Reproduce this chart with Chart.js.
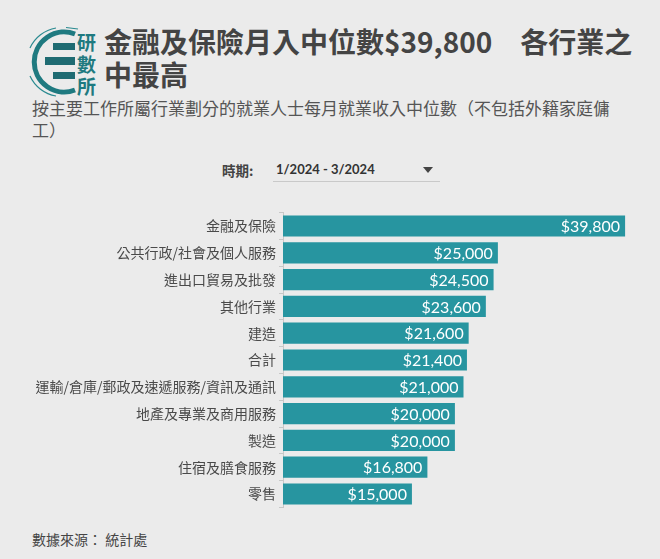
<!DOCTYPE html>
<html>
<head>
<meta charset="utf-8">
<script src="https://cdn.jsdelivr.net/npm/chart.js@4/dist/chart.umd.min.js"></script>
<style>
  html, body { margin:0; padding:0; background:#ebebeb; width:660px; height:559px; overflow:hidden; font-family:"Noto Sans CJK TC","Noto Sans",sans-serif; }
  #logo { position:absolute; left:26px; top:26px; }
  #title { position:absolute; left:104px; top:25px; width:540px; font-size:28px; font-weight:700; color:#444; line-height:33px; letter-spacing:0; }
  #subtitle { position:absolute; left:32px; top:97px; width:600px; font-size:17px; color:#555; line-height:22px; }
  #period { position:absolute; left:222px; top:160px; font-size:13.5px; font-weight:700; color:#444; }
  #select { position:absolute; left:273px; top:160px; width:167px; height:21px; border-bottom:1px solid #c9c9c9; font-family:"Lato","Noto Sans",sans-serif; font-size:13px; font-weight:700; color:#333; }
  #select span { position:absolute; left:3px; top:1px; }
  #arrow { position:absolute; left:150px; top:7px; width:0; height:0; border-left:5px solid transparent; border-right:5px solid transparent; border-top:6px solid #444; }
  #wrap { position:absolute; left:0; top:195px; width:660px; height:325px; }
  #footer { position:absolute; left:32px; top:529px; font-size:14px; color:#444; }
</style>
</head>
<body>
<svg id="logo" width="78" height="74" viewBox="0 0 78 74">
  <path d="M 49 8 A 30 30 0 1 0 49 64" fill="none" stroke="#1f7a80" stroke-width="5"/>
  <path d="M 30 2 A 35 35 0 0 0 4 22" fill="none" stroke="#2a8a90" stroke-width="1.2"/>
  <path d="M 4 50 A 35 35 0 0 0 30 70" fill="none" stroke="#2a8a90" stroke-width="1.2"/>
  <path d="M 40 1.5 L 52 3" fill="none" stroke="#2a8a90" stroke-width="1.2"/>
  <rect x="27" y="17" width="22" height="7" fill="#1f6b72"/>
  <rect x="19" y="31" width="30" height="8" fill="#1f6b72"/>
  <rect x="27" y="46" width="22" height="7" fill="#1f6b72"/>
  <text x="51" y="24" font-size="19" font-weight="700" fill="#1f7a80" font-family="Noto Sans CJK TC">研</text>
  <text x="51" y="46" font-size="19" font-weight="700" fill="#1f7a80" font-family="Noto Sans CJK TC">數</text>
  <text x="51" y="68" font-size="19" font-weight="700" fill="#1f7a80" font-family="Noto Sans CJK TC">所</text>
</svg>
<div id="title">金融及保險月入中位數$39,800　各行業之中最高</div>
<div id="subtitle">按主要工作所屬行業劃分的就業人士每月就業收入中位數（不包括外籍家庭傭工）</div>
<div id="period">時期:</div>
<div id="select"><span>1/2024 - 3/2024</span><div id="arrow"></div></div>
<div id="wrap"><canvas id="c" width="660" height="325"></canvas></div>
<div id="footer">數據來源： 統計處</div>
<script>
const categories = ["金融及保險","公共行政/社會及個人服務","進出口貿易及批發","其他行業","建造","合計","運輸/倉庫/郵政及速遞服務/資訊及通訊","地產及專業及商用服務","製造","住宿及膳食服務","零售"];
const medianIncome = [39800,25000,24500,23600,21600,21400,21000,20000,20000,16800,15000];

const valueLabels = {
  id: 'valueLabels',
  afterDatasetsDraw(chart) {
    const ctx = chart.ctx;
    const meta = chart.getDatasetMeta(0);
    ctx.save();
    ctx.fillStyle = '#ffffff';
    ctx.font = '16px Lato, "Noto Sans", sans-serif';
    ctx.textAlign = 'right';
    ctx.textBaseline = 'middle';
    meta.data.forEach((bar, i) => {
      const v = chart.data.datasets[0].data[i];
      ctx.fillText('$' + v.toLocaleString('en-US'), bar.x - 5, bar.y + 1);
    });
    ctx.restore();
  }
};

new Chart(document.getElementById('c'), {
  type: 'bar',
  data: {
    labels: categories,
    datasets: [{
      data: medianIncome,
      backgroundColor: '#2795a0',
      borderWidth: 0,
      barPercentage: 0.79,
      categoryPercentage: 1.0
    }]
  },
  options: {
    indexAxis: 'y',
    responsive: false,
    animation: false,
    layout: { padding: { left: 0, right: 16, top: 17.6, bottom: 12.6 } },
    plugins: { legend: { display: false }, tooltip: { enabled: false } },
    scales: {
      x: { display: false, min: 0, max: 42000 },
      y: {
        afterFit(scale) { scale.width = 283; },
        border: { display: true, color: '#c8c8c8', width: 1 },
        grid: { drawOnChartArea: false, drawTicks: true, tickLength: 4, color: '#c8c8c8' },
        ticks: {
          color: '#4a4a4a',
          padding: 3,
          font: { family: '"Noto Sans CJK TC", "Noto Sans", sans-serif', size: 14 }
        }
      }
    }
  },
  plugins: [valueLabels]
});
</script>
</body>
</html>
